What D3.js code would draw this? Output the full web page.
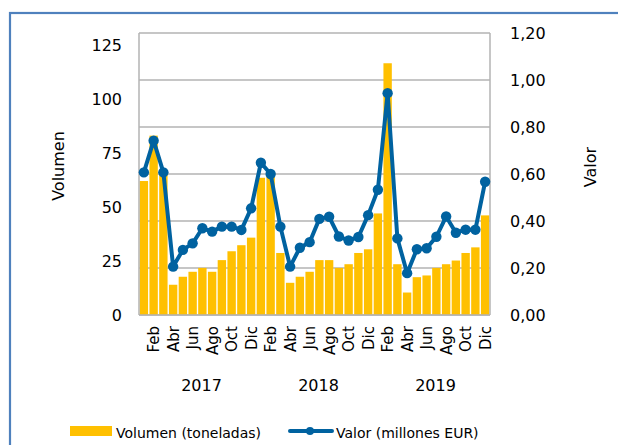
<!DOCTYPE html>
<html><head><meta charset="utf-8">
<script src="https://cdn.jsdelivr.net/npm/d3@7"></script>
<style>body{margin:0;background:#fff}svg{display:block}text{font-family:"DejaVu Sans",Verdana,sans-serif;fill:#000}</style>
</head><body><svg id="c" width="618" height="445"></svg>
<script>
const months = ["Ene","Feb","Mar","Abr","May","Jun","Jul","Ago","Sep","Oct","Nov","Dic"];
const years = ["2017","2018","2019"];
const volumen = [62, 83, 66, 14, 17.7, 20, 21.8, 20, 25.4, 29.5, 32.3, 35.8,
                 63.5, 64, 28.7, 14.9, 17.7, 20, 25.4, 25.4, 21.8, 23.5, 28.7, 30.4,
                 47, 116.5, 23.5, 10.4, 17.5, 18.3, 21.8, 23.5, 25.2, 28.7, 31.3, 46.1];
const valor = [0.607, 0.742, 0.607, 0.206, 0.277, 0.305, 0.369, 0.355, 0.376, 0.376, 0.362, 0.454,
               0.648, 0.600, 0.376, 0.206, 0.286, 0.310, 0.409, 0.418, 0.334, 0.317, 0.332, 0.425,
               0.533, 0.944, 0.326, 0.178, 0.280, 0.284, 0.333, 0.419, 0.350, 0.363, 0.363, 0.567];
const volTicks = [0, 25, 50, 75, 100, 125];
const valTicks = [0, 0.2, 0.4, 0.6, 0.8, 1.0, 1.2];
const volMax = 130.5, valMax = 1.2;
const legendLabels = ["Volumen (toneladas)", "Valor (millones EUR)"];
const axisTitles = ["Volumen", "Valor"];
const barColor = "#FFC000", lineColor = "#0062A0";

const data = [];
years.forEach((y, yi) => months.forEach((m, mi) => {
  const i = yi * 12 + mi;
  data.push({key: y + "-" + m, year: y, month: m, mi, vol: volumen[i], val: valor[i]});
}));

const svg = d3.select("#c");
const L = 139, R = 490, T = 33, B = 315;

// outer frame
svg.append("rect").attr("x", 10).attr("y", 13).attr("width", 700).attr("height", 500)
  .attr("fill", "none").attr("stroke", "#4F81BD").attr("stroke-width", 2.2);

const x = d3.scaleBand().domain(data.map(d => d.key)).range([L, R]).paddingInner(0.14).paddingOuter(0.07);
const yL = d3.scaleLinear().domain([0, volMax]).range([B, T]);
const yR = d3.scaleLinear().domain([0, valMax]).range([B, T]);

// gridlines (secondary axis)
svg.append("g").selectAll("line").data(valTicks).join("line")
  .attr("x1", L).attr("x2", R).attr("y1", d => yR(d)).attr("y2", d => yR(d))
  .attr("stroke", "#b3b3b3").attr("stroke-width", 1.5);

// bars
svg.append("g").selectAll("rect").data(data).join("rect")
  .attr("x", d => x(d.key)).attr("width", x.bandwidth())
  .attr("y", d => yL(d.vol)).attr("height", d => yL(0) - yL(d.vol))
  .attr("fill", barColor);

// plot border verticals
svg.append("line").attr("x1", L).attr("x2", L).attr("y1", T).attr("y2", B).attr("stroke", "#b3b3b3").attr("stroke-width", 1.5);
svg.append("line").attr("x1", R).attr("x2", R).attr("y1", T).attr("y2", B).attr("stroke", "#b3b3b3").attr("stroke-width", 1.5);
svg.append("line").attr("x1", L).attr("x2", R).attr("y1", B).attr("y2", B).attr("stroke", "#b3b3b3").attr("stroke-width", 1.5);

// line
const cx = d => x(d.key) + x.bandwidth() / 2;
svg.append("path").datum(data)
  .attr("d", d3.line().x(cx).y(d => yR(d.val)))
  .attr("fill", "none").attr("stroke", lineColor).attr("stroke-width", 4).attr("stroke-linejoin", "round");
svg.append("g").selectAll("circle").data(data).join("circle")
  .attr("cx", cx).attr("cy", d => yR(d.val)).attr("r", 5.2).attr("fill", lineColor);

// left axis
const gl = svg.append("g").attr("transform", `translate(${L - 17},0)`)
  .call(d3.axisLeft(yL).tickValues(volTicks).tickSize(0).tickPadding(0));
gl.select(".domain").remove();
gl.selectAll("text").style("font-size", "16px").style("font-family", '"DejaVu Sans",sans-serif').attr("fill", "#000");

// right axis
const fmt = d => d3.format(".2f")(d).replace(".", ",");
const gr = svg.append("g").attr("transform", `translate(${R + 20},0)`)
  .call(d3.axisRight(yR).tickValues(valTicks).tickFormat(fmt).tickSize(0).tickPadding(0));
gr.select(".domain").remove();
gr.selectAll("text").style("font-size", "16px").style("font-family", '"DejaVu Sans",sans-serif').attr("fill", "#000");

// month labels (every other month)
svg.append("g").selectAll("text").data(data.filter(d => d.mi % 2 === 1)).join("text")
  .attr("transform", d => `translate(${cx(d)},326) rotate(-90)`)
  .attr("text-anchor", "end").attr("dy", "0.36em")
  .style("font-size", "15px").text(d => d.month);

// year labels
svg.append("g").selectAll("text").data(years).join("text")
  .attr("x", y => {
    const ks = data.filter(d => d.year === y);
    return (x(ks[0].key) + x(ks[ks.length - 1].key) + x.bandwidth()) / 2 + 4;
  })
  .attr("y", 391).attr("text-anchor", "middle").style("font-size", "16px").text(y => y);

// axis titles
svg.append("text").attr("transform", "translate(64,166) rotate(-90)").attr("text-anchor", "middle")
  .style("font-size", "16px").text(axisTitles[0]);
svg.append("text").attr("transform", "translate(596,167) rotate(-90)").attr("text-anchor", "middle")
  .style("font-size", "16px").text(axisTitles[1]);

// legend
const lg = svg.append("g");
lg.append("rect").attr("x", 70).attr("y", 426).attr("width", 42).attr("height", 10).attr("fill", barColor);
lg.append("text").attr("x", 116).attr("y", 438).style("font-size", "14px").text(legendLabels[0]);
lg.append("line").attr("x1", 290).attr("x2", 332).attr("y1", 431).attr("y2", 431)
  .attr("stroke", lineColor).attr("stroke-width", 4).attr("stroke-linecap", "round");
lg.append("circle").attr("cx", 310).attr("cy", 431).attr("r", 4).attr("fill", lineColor);
lg.append("text").attr("x", 336).attr("y", 438).style("font-size", "14px").text(legendLabels[1]);
</script></body></html>
